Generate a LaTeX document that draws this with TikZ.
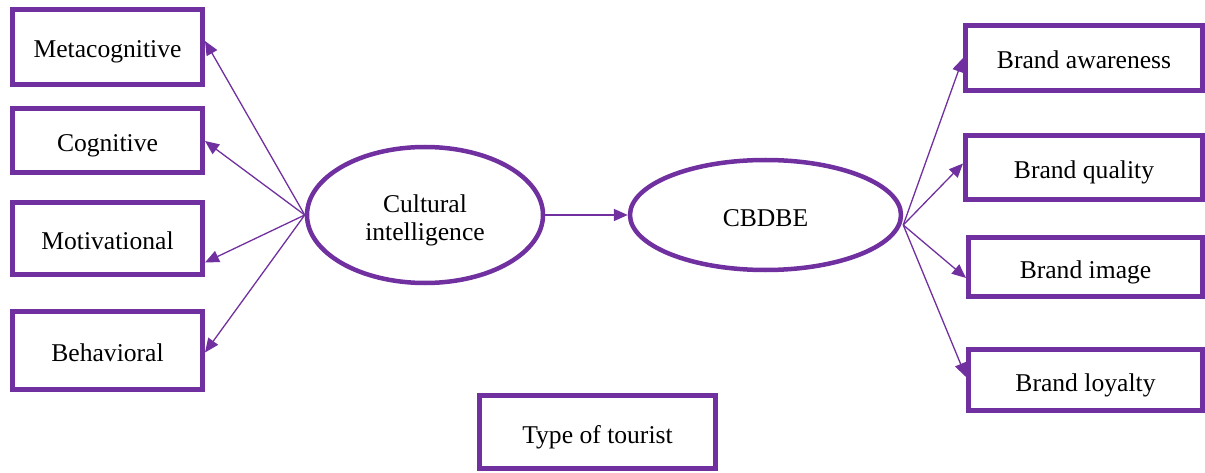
\documentclass[tikz,border=0pt]{standalone}
\usepackage{fontspec}
\setmainfont{Liberation Serif}
\usetikzlibrary{arrows.meta}
\usetikzlibrary{shapes.geometric}
\definecolor{mpurple}{HTML}{7030A0}

\begin{document}
\begin{tikzpicture}[x=1pt, y=-1pt,
    box/.style={draw=mpurple, line width=5pt, inner sep=0pt,
      text height=28pt, text depth=6pt, font=\fontsize{25.6}{28}\selectfont},
    oval/.style={ellipse, draw=mpurple, line width=4.5pt, inner sep=0pt, align=center,
      font=\fontsize{25.6}{28}\selectfont},
    link/.style={draw=mpurple, line width=1.3pt, -{Triangle[length=14pt,width=12pt]}}]
    \useasboundingbox (0, 0) rectangle (1205, 473);

    % dimensions of cultural intelligence
    \node [box, minimum width=190pt, minimum height=75pt] (meta) at (107.5, 47) {Metacognitive};
    \node [box, minimum width=190pt, minimum height=64pt] (cog) at (107.5, 141) {Cognitive};
    \node [box, minimum width=190pt, minimum height=72pt] (mot) at (107.5, 238.5) {Motivational};
    \node [box, minimum width=190pt, minimum height=78pt] (beh) at (107.5, 350.5) {Behavioral};

    \node [oval, minimum width=236pt, minimum height=136pt] (cult) at (425, 215) {\rule{0pt}{29pt}Cultural\\intelligence};
    \node [oval, minimum width=271pt, minimum height=110pt] (cbdbe) at (765.5, 215) {\rule{0pt}{23pt}CBDBE};

    % dimensions of CBDBE
    \node [box, minimum width=237pt, minimum height=65pt] (aware) at (1084, 58) {Brand awareness};
    \node [box, minimum width=237pt, minimum height=64pt] (qual) at (1084, 167.5) {Brand quality};
    \node [box, minimum width=234pt, minimum height=59pt] (img) at (1085.5, 267) {Brand image};
    \node [box, minimum width=234pt, minimum height=61pt] (loy) at (1085.5, 380) {Brand loyalty};

    \node [box, minimum width=236pt, minimum height=73pt] (tour) at (597.5, 432) {Type of tourist};

    \draw [link] (cult.west) -- ([yshift=6pt]meta.east);
    \draw [link] (cult.west) -- (cog.east);
    \draw [link] (cult.west) -- ([yshift=-24pt]mot.east);
    \draw [link] (cult.west) -- ([yshift=-2pt]beh.east);

    \draw [link, line width=2pt] (cult.east) -- (cbdbe.west);

    \draw [link] ([yshift=-10pt]cbdbe.east) -- (aware.west);
    \draw [link] ([yshift=-10pt]cbdbe.east) -- ([yshift=4pt]qual.west);
    \draw [link] ([yshift=-10pt]cbdbe.east) -- ([yshift=-11pt]img.west);
    \draw [link] ([yshift=-10pt]cbdbe.east) -- ([yshift=3pt]loy.west);
  \end{tikzpicture}
\end{document}
